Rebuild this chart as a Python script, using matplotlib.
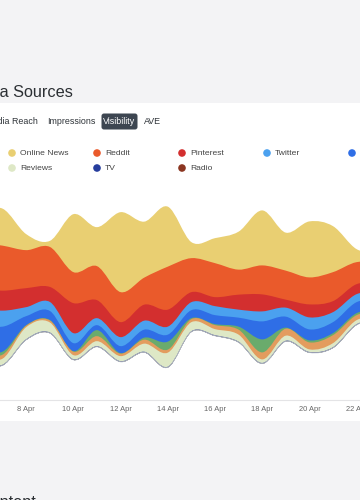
import numpy as np
import pandas as pd
import matplotlib
matplotlib.use('Agg')
import matplotlib.pyplot as plt
import matplotlib.dates as mdates
from matplotlib.path import Path
from matplotlib.patches import PathPatch, FancyBboxPatch, Rectangle

plt.rcParams['font.family'] = ['Liberation Sans', 'DejaVu Sans']

# daily visibility per source, 6 Apr .. 23 Apr
dates = pd.date_range('2023-04-06', '2023-04-23', freq='D')

sources = ['Online News', 'Reddit', 'Pinterest', 'Twitter', 'Facebook',
           'Forums', 'Blogs', 'Reviews', 'TV', 'Radio']
colors = ['#e9cf72', '#ea5a2b', '#d32f2f', '#4ba1ef', '#2f6ee6',
          '#6aab6c', '#e39c5e', '#dee8c6', '#5a6fb8', '#8b6a60']

online_news = [30, 37, 16, 6, 58, 39, 80, 56, 60, 16, 25, 38, 55, 38, 56, 46, 13, 10]
reddit      = [45, 45, 38, 40, 31, 34, 30, 27, 43, 34, 34, 25, 29, 29, 27, 29, 22, 20]
pinterest   = [20, 20, 19, 15, 30, 18, 15, 16, 17, 10, 9, 15, 17, 8, 13, 11, 10, 9]
twitter     = [15, 16, 9, 9, 10, 7, 9, 9, 8, 8, 9, 8, 10, 9, 12, 10, 8, 8]
facebook    = [25, 25, 9, 9, 8, 5, 7, 8, 7, 8, 9, 9, 18, 11, 11, 11, 11, 10]
forums      = [3, 3, 0.5, 0.5, 0.5, 6, 0.5, 2, 8, 1, 1, 3, 13, 1, 2, 2, 2, 2]
blogs       = [4, 4, 1.5, 2, 3.5, 5, 2.5, 4, 3, 3, 4, 5, 7, 7, 7, 8, 5, 5]
reviews     = [6, 6, 12, 10, 4, 5, 5, 8, 14, 9, 6, 7, 3.5, 5, 2.5, 4, 4, 3]
tv          = [0.4] * 18
radio       = [0.3] * 18

series = [online_news, reddit, pinterest, twitter, facebook,
          forums, blogs, reviews, tv, radio]

tabs = ['Media Reach', 'Impressions', 'Visibility', 'AVE']


def smooth_path(x, y):
    # cubic bezier segments through the points (catmull-rom style tangents)
    m = np.gradient(y, x)
    verts = [(x[0], y[0])]
    codes = [Path.MOVETO]
    for i in range(len(x) - 1):
        h = x[i + 1] - x[i]
        verts += [(x[i] + h / 3, y[i] + m[i] * h / 3),
                  (x[i + 1] - h / 3, y[i + 1] - m[i + 1] * h / 3),
                  (x[i + 1], y[i + 1])]
        codes += [Path.CURVE4] * 3
    return verts, codes


W, H = 360, 500
fig = plt.figure(figsize=(W / 100, H / 100), dpi=100)
fig.patch.set_facecolor('#f3f3f5')

# overlay in pixel coordinates for the page bits
bg = fig.add_axes([0, 0, 1, 1], zorder=0)
bg.set_xlim(0, W)
bg.set_ylim(H, 0)
bg.axis('off')
bg.add_patch(Rectangle((-10, 103), W + 20, 318, facecolor='white', edgecolor='none'))

bg.text(73, 97, 'Media Sources', ha='right', va='baseline', fontsize=11.7, color='#2b2f33')
bg.text(-21, 507, 'Content', ha='left', va='baseline', fontsize=11.7, color='#2b2f33')

# tabs
bg.text(38, 121.5, tabs[0], ha='right', va='center', fontsize=6.4, color='#2e3338')
bg.text(47, 121.5, tabs[1], ha='left', va='center', fontsize=6.4, color='#2e3338')
bg.add_patch(FancyBboxPatch((101.5, 113.5), 36, 16, boxstyle='round,pad=0,rounding_size=2.5',
                            facecolor='#3d4651', edgecolor='none'))
bg.text(119.5, 121.5, tabs[2], ha='center', va='center', fontsize=6.4, color='white')
bg.text(144, 121.5, tabs[3], ha='left', va='center', fontsize=6.4, color='#2e3338')

# legend: 7 in the first row, 3 in the second
legend_colors = colors[:8] + ['#263d9d', '#8b3621']
for i, (name, c) in enumerate(zip(sources, legend_colors)):
    row, col = (0, i) if i < 7 else (1, i - 7)
    lx = 12 + 85 * col
    ly = 153 + 15 * row
    bg.scatter([lx], [ly], s=30, color=c, edgecolors='none')
    bg.text(lx + 8, ly + 0.5, name, ha='left', va='center', fontsize=6.1, color='#444444')

# streamgraph
ax = fig.add_axes([0, 1 - 400 / H, 1, 215 / H], zorder=1)
ax.patch.set_visible(False)

x = mdates.date2num(dates)
vals = np.array(series, dtype=float)
total = vals.sum(axis=0)
tops = total / 2 - np.vstack([np.zeros(len(x)), np.cumsum(vals, axis=0)[:-1]])
bottom = -total / 2

bv, bc = smooth_path(x, bottom)
for k in range(len(series)):
    tv_, tc = smooth_path(x, tops[k])
    verts = tv_ + bv[::-1] + [tv_[0]]
    codes = tc + [Path.LINETO] + [Path.CURVE4] * (len(bv) - 1) + [Path.CLOSEPOLY]
    ax.add_patch(PathPatch(Path(verts, codes), facecolor=colors[k], edgecolor='none'))

ax.add_patch(PathPatch(Path(bv, bc), facecolor='none', edgecolor='#b4bfcc', lw=0.5))

x7 = mdates.date2num(pd.Timestamp('2023-04-07'))
left = x7 - 2.6 / 23.6
ax.set_xlim(left, left + W / 23.6)
ax.set_ylim(-113, 102)

ax.xaxis.set_major_locator(mdates.DayLocator(bymonthday=range(8, 31, 2)))
ax.xaxis.set_major_formatter(mdates.DateFormatter('%-d %b'))
ax.tick_params(axis='x', length=0, pad=4.5, labelsize=5.4, labelcolor='#666666')
ax.set_yticks([])
for s in ['top', 'left', 'right']:
    ax.spines[s].set_visible(False)
ax.spines['bottom'].set_color('#e4e4e6')
ax.spines['bottom'].set_linewidth(0.8)

fig.savefig('out.png', dpi=100, facecolor=fig.get_facecolor())
